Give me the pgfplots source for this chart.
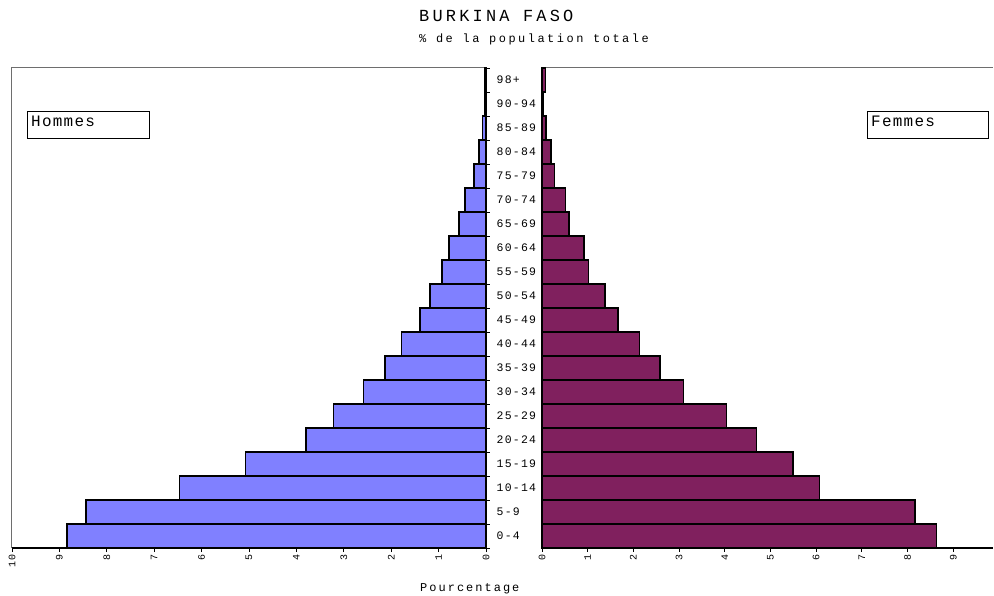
\documentclass[border=0pt]{standalone}
\usepackage{fontspec}
\setmainfont{Liberation Mono}
\usepackage{pgfplots}
\pgfplotsset{compat=1.18}
\definecolor{hommes}{HTML}{8080FF}
\definecolor{femmes}{HTML}{80205E}
\definecolor{cadre}{HTML}{6E6E6E}

\begin{document}
\begin{tikzpicture}
\path[use as bounding box] (0,0) rectangle (994bp,596bp);

\pgfplotsset{
  pyramide/.style={
    scale only axis, anchor=south west,
    height=480bp,
    ymin=-0.5, ymax=19.5,
    xbar, bar width=1, bar shift=0,
    clip=false,
    axis x line*=bottom,
    x axis line style={black, line width=1.2bp},
    tick align=outside,
    major tick length=4bp, minor tick length=4bp,
    tick style={black, line width=0.8bp},
    /pgf/number format/assume math mode=true,
    xticklabel style={rotate=90, anchor=east, inner sep=2.5bp,
      font=\fontsize{10}{10}\selectfont\addfontfeature{LetterSpace=8}},
  },
}

% Hommes
\begin{axis}[pyramide,
  at={(12bp,48bp)}, width=474bp,
  xmin=0, xmax=10, x dir=reverse,
  xtick={0,...,10},
  axis y line*=right,
  y axis line style={black, line width=1.2bp},
  ytick={0,...,19},
  yticklabels={0-4,5-9,10-14,15-19,20-24,25-29,30-34,35-39,40-44,45-49,50-54,55-59,60-64,65-69,70-74,75-79,80-84,85-89,90-94,98+},
  minor ytick={-0.5,0.5,...,19.5},
  every major y tick/.append style={draw=none},
  yticklabel style={anchor=west, inner sep=0pt, xshift=6.5bp,
    font=\fontsize{11.5}{11.5}\selectfont\addfontfeature{LetterSpace=11}},
]
\draw[cadre, line width=1bp] (axis cs:10,-0.5) -- (axis cs:10,19.5) -- (axis cs:0,19.5);
\addplot[draw=black, line width=1.3bp, fill=hommes] coordinates {
  (8.84,0) (8.44,1) (6.46,2) (5.08,3) (3.80,4) (3.21,5) (2.59,6) (2.13,7)
  (1.79,8) (1.39,9) (1.18,10) (0.93,11) (0.78,12) (0.57,13) (0.44,14)
  (0.25,15) (0.15,16) (0.07,17) (0.02,18) (0.02,19)
};
\end{axis}

% Femmes
\begin{axis}[pyramide,
  at={(542bp,48bp)}, width=451bp,
  xmin=0, xmax=9.87,
  xtick={0,...,9},
  axis y line=none,
  ytick=\empty,
]
\draw[cadre, line width=1bp] (axis cs:0,-0.5) -- (axis cs:0,19.5) -- (axis cs:9.87,19.5);
\addplot[draw=black, line width=1.3bp, fill=femmes] coordinates {
  (8.64,0) (8.16,1) (6.08,2) (5.49,3) (4.70,4) (4.03,5) (3.09,6) (2.58,7)
  (2.14,8) (1.66,9) (1.38,10) (1.01,11) (0.92,12) (0.59,13) (0.52,14)
  (0.28,15) (0.20,16) (0.09,17) (0.04,18) (0.07,19)
};
\end{axis}

% legend boxes
\draw[black, line width=0.8bp] (27bp,458bp) rectangle (149bp,485bp);
\node[anchor=base west, inner sep=0pt, font=\fontsize{16}{16}\selectfont\addfontfeature{LetterSpace=8}] at (31bp,469.5bp) {Hommes};
\draw[black, line width=0.8bp] (867bp,458bp) rectangle (988bp,485bp);
\node[anchor=base west, inner sep=0pt, font=\fontsize{16}{16}\selectfont\addfontfeature{LetterSpace=8}] at (871bp,469.5bp) {Femmes};

% titles
\node[anchor=base west, inner sep=0pt, font=\fontsize{17}{17}\selectfont\addfontfeature{LetterSpace=19}] at (419bp,574bp) {BURKINA FASO};
\node[anchor=base west, inner sep=0pt, font=\fontsize{12}{12}\selectfont\addfontfeature{LetterSpace=21}] at (419bp,553bp) {\% de la population totale};
\node[anchor=base west, inner sep=0pt, font=\fontsize{12}{12}\selectfont\addfontfeature{LetterSpace=17}] at (420bp,5bp) {Pourcentage};
\end{tikzpicture}
\end{document}
